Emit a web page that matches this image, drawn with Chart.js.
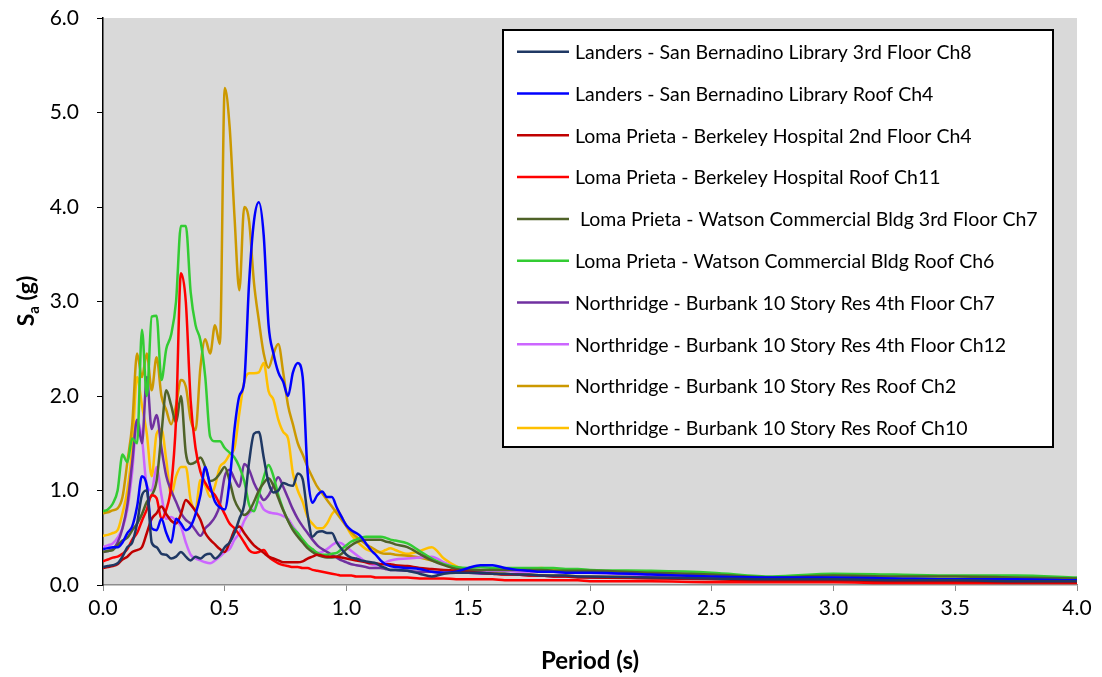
<!DOCTYPE html>
<html>
<head>
<meta charset="utf-8">
<script src="https://cdn.jsdelivr.net/npm/chart.js@4.4.1/dist/chart.umd.min.js"></script>
<style>
  html, body { margin: 0; padding: 0; background: #fff; }
  #wrap { width: 1102px; height: 677px; }
</style>
</head>
<body>
<div id="wrap"><canvas id="spectra"></canvas></div>
<script>
// Period grid (s): fine steps over the short-period range, coarser beyond
const PERIOD = [
  0.00,0.02,0.04,0.06,0.08,0.10,0.12,0.14,0.16,0.18,
  0.20,0.22,0.24,0.26,0.28,0.30,0.32,0.34,0.36,0.38,
  0.40,0.42,0.44,0.46,0.48,0.50,0.52,0.54,0.56,0.58,
  0.60,0.62,0.64,0.66,0.68,0.70,0.72,0.74,0.76,0.78,
  0.80,0.82,0.84,0.86,0.88,0.90,0.92,0.94,0.96,0.98,
  1.00,1.02,1.04,1.06,1.08,1.10,1.12,1.14,1.16,1.18,
  1.20,
  1.25,1.30,1.35,1.40,1.45,1.50,1.55,1.60,1.65,1.70,1.75,1.80,1.85,1.90,1.95,2.00,
  2.25,2.50,2.75,3.00,3.25,3.50,3.75,4.00
];

// Spectral acceleration Sa (g) per record
const LANDERS_LIB_3RD_CH8 = [
  0.19,0.20,0.21,0.23,0.30,0.40,0.45,0.65,0.95,1.00,
  0.45,0.40,0.33,0.32,0.28,0.30,0.35,0.30,0.26,0.30,
  0.28,0.32,0.33,0.28,0.32,0.40,0.45,0.55,0.70,0.85,
  1.30,1.60,1.62,1.35,1.08,0.98,1.00,1.08,1.06,1.05,
  1.18,1.12,0.75,0.51,0.56,0.57,0.55,0.55,0.45,0.38,
  0.32,0.29,0.28,0.26,0.25,0.24,0.23,0.20,0.18,0.16,
  0.16,
  0.15,0.12,0.09,0.12,0.13,0.13,0.13,0.12,0.12,0.11,0.11,0.10,0.10,0.10,0.09,0.09,
  0.08,0.07,0.06,0.06,0.05,0.05,0.04,0.04
];
const LANDERS_LIB_ROOF_CH4 = [
  0.38,0.39,0.40,0.40,0.45,0.55,0.62,0.83,1.15,1.05,
  0.60,0.58,0.70,0.55,0.45,0.70,0.65,0.58,0.62,0.75,
  0.95,1.25,1.05,0.88,0.82,0.80,1.10,1.65,2.00,2.15,
  3.20,3.85,4.05,3.70,2.75,2.45,2.25,2.15,2.00,2.25,
  2.35,2.20,1.20,0.87,0.95,0.99,0.93,0.93,0.82,0.72,
  0.63,0.58,0.55,0.51,0.44,0.37,0.32,0.26,0.22,0.20,
  0.19,
  0.18,0.17,0.14,0.13,0.14,0.18,0.21,0.21,0.18,0.16,0.15,0.14,0.14,0.13,0.13,0.13,
  0.11,0.09,0.08,0.08,0.07,0.06,0.06,0.05
];
const LOMA_BERKELEY_2ND_CH4 = [
  0.18,0.19,0.20,0.22,0.27,0.30,0.35,0.37,0.40,0.55,
  0.70,0.76,0.83,0.75,0.68,0.65,0.75,0.90,0.85,0.78,
  0.69,0.55,0.48,0.43,0.38,0.35,0.45,0.58,0.62,0.55,
  0.48,0.42,0.38,0.34,0.30,0.28,0.26,0.24,0.24,0.24,
  0.24,0.25,0.28,0.30,0.32,0.31,0.30,0.30,0.30,0.29,
  0.28,0.27,0.26,0.25,0.24,0.23,0.23,0.22,0.22,0.22,
  0.21,
  0.20,0.18,0.17,0.16,0.15,0.14,0.13,0.12,0.11,0.11,0.10,0.10,0.09,0.09,0.08,0.08,
  0.07,0.06,0.05,0.05,0.04,0.04,0.03,0.03
];
const LOMA_BERKELEY_ROOF_CH11 = [
  0.25,0.27,0.29,0.30,0.33,0.38,0.48,0.55,0.68,0.80,
  0.95,0.92,0.70,0.80,1.05,1.75,3.30,3.00,1.95,1.45,
  1.20,1.08,1.00,0.95,0.85,0.75,0.65,0.60,0.53,0.45,
  0.37,0.34,0.35,0.37,0.30,0.26,0.23,0.21,0.20,0.19,
  0.19,0.18,0.18,0.16,0.15,0.14,0.13,0.12,0.11,0.10,
  0.10,0.10,0.09,0.09,0.09,0.09,0.08,0.08,0.08,0.08,
  0.08,
  0.08,0.07,0.07,0.07,0.06,0.06,0.06,0.06,0.05,0.05,0.05,0.05,0.05,0.05,0.05,0.04,
  0.04,0.03,0.03,0.03,0.02,0.02,0.02,0.02
];
const LOMA_WATSON_3RD_CH7 = [
  0.35,0.36,0.37,0.42,0.47,0.50,0.58,0.65,0.75,0.88,
  0.95,1.10,1.60,2.06,1.90,1.72,2.00,1.40,1.28,1.30,
  1.35,1.25,1.10,1.12,1.18,1.25,1.10,0.90,0.80,0.74,
  0.78,0.88,1.00,1.08,1.13,1.05,0.92,0.79,0.68,0.58,
  0.51,0.45,0.39,0.35,0.32,0.30,0.29,0.29,0.30,0.33,
  0.38,0.42,0.45,0.47,0.48,0.48,0.48,0.48,0.46,0.45,
  0.43,
  0.40,0.33,0.26,0.21,0.17,0.16,0.16,0.16,0.16,0.16,0.16,0.16,0.15,0.15,0.15,0.15,
  0.13,0.11,0.08,0.10,0.09,0.09,0.08,0.07
];
const LOMA_WATSON_ROOF_CH6 = [
  0.78,0.80,0.86,1.00,1.38,1.30,1.55,1.50,2.70,2.00,
  2.84,2.85,2.17,2.50,2.65,3.00,3.80,3.80,3.10,2.75,
  2.59,2.20,1.57,1.52,1.52,1.45,1.40,1.35,1.25,1.10,
  0.85,0.78,0.95,1.14,1.27,1.15,0.95,0.80,0.68,0.60,
  0.55,0.48,0.42,0.38,0.34,0.32,0.32,0.33,0.34,0.38,
  0.42,0.46,0.48,0.50,0.51,0.51,0.51,0.51,0.50,0.48,
  0.47,
  0.44,0.36,0.28,0.22,0.19,0.18,0.19,0.18,0.18,0.18,0.18,0.18,0.18,0.17,0.17,0.16,
  0.15,0.13,0.09,0.12,0.11,0.10,0.10,0.08
];
const NORTHRIDGE_BURBANK_4TH_CH7 = [
  0.35,0.36,0.38,0.45,0.60,0.85,1.30,1.75,1.50,2.20,
  1.65,1.80,1.45,1.15,1.00,0.88,0.76,0.69,0.65,0.58,
  0.52,0.60,0.65,0.72,0.85,1.15,1.22,1.12,1.04,1.28,
  1.22,1.08,0.98,0.90,0.95,1.05,1.14,1.04,0.92,0.80,
  0.70,0.62,0.55,0.48,0.42,0.38,0.35,0.32,0.29,0.26,
  0.24,0.22,0.21,0.20,0.19,0.18,0.18,0.18,0.17,0.16,
  0.16,
  0.15,0.14,0.14,0.13,0.13,0.13,0.12,0.12,0.11,0.11,0.10,0.10,0.09,0.09,0.09,0.08,
  0.08,0.07,0.06,0.05,0.05,0.05,0.04,0.04
];
const NORTHRIDGE_BURBANK_4TH_CH12 = [
  0.40,0.42,0.44,0.50,0.60,0.80,1.20,1.75,1.55,1.05,
  1.00,1.25,0.95,0.70,0.72,0.68,0.62,0.45,0.32,0.28,
  0.26,0.24,0.23,0.26,0.30,0.35,0.38,0.48,0.55,0.68,
  0.76,0.80,0.88,0.80,0.77,0.76,0.75,0.73,0.70,0.62,
  0.55,0.47,0.41,0.37,0.34,0.35,0.38,0.42,0.45,0.44,
  0.40,0.36,0.32,0.28,0.24,0.22,0.21,0.22,0.24,0.26,
  0.27,
  0.28,0.29,0.30,0.24,0.18,0.16,0.15,0.15,0.15,0.14,0.14,0.14,0.14,0.13,0.13,0.13,
  0.10,0.08,0.07,0.06,0.06,0.05,0.05,0.05
];
const NORTHRIDGE_BURBANK_ROOF_CH2 = [
  0.76,0.77,0.79,0.81,0.93,1.30,1.70,2.45,2.20,2.45,
  2.06,2.41,2.00,1.85,1.70,1.90,2.17,2.10,1.75,1.64,
  2.30,2.60,2.45,2.75,2.55,5.26,4.85,3.90,3.12,4.00,
  3.85,3.20,2.80,2.45,2.30,2.45,2.55,2.25,1.90,1.70,
  1.50,1.38,1.25,1.14,1.04,0.97,0.90,0.83,0.76,0.69,
  0.62,0.56,0.51,0.47,0.43,0.40,0.37,0.34,0.33,0.33,
  0.32,
  0.31,0.29,0.26,0.23,0.18,0.15,0.13,0.12,0.12,0.11,0.11,0.10,0.10,0.10,0.09,0.09,
  0.08,0.07,0.06,0.06,0.05,0.05,0.05,0.04
];
const NORTHRIDGE_BURBANK_ROOF_CH10 = [
  0.52,0.53,0.55,0.58,0.76,1.00,1.45,2.20,1.90,1.60,
  1.15,1.60,1.65,1.32,0.95,1.15,1.25,1.25,0.90,0.80,
  1.11,1.05,0.93,1.05,1.25,1.30,1.38,1.45,1.82,2.15,
  2.24,2.24,2.25,2.35,2.05,1.96,1.75,1.62,1.55,1.18,
  1.00,0.88,0.72,0.65,0.60,0.60,0.65,0.75,0.79,0.72,
  0.62,0.53,0.47,0.42,0.38,0.36,0.35,0.35,0.37,0.39,
  0.37,
  0.33,0.36,0.40,0.28,0.20,0.16,0.14,0.14,0.15,0.16,0.17,0.18,0.17,0.16,0.15,0.15,
  0.12,0.10,0.08,0.07,0.06,0.06,0.05,0.05
];

const SERIES_LABELS = [
  'Landers - San Bernadino Library 3rd Floor Ch8',
  'Landers - San Bernadino Library Roof Ch4',
  'Loma Prieta - Berkeley Hospital 2nd Floor Ch4',
  'Loma Prieta - Berkeley Hospital Roof Ch11',
  ' Loma Prieta - Watson Commercial Bldg 3rd Floor Ch7',
  'Loma Prieta - Watson Commercial Bldg Roof Ch6',
  'Northridge - Burbank 10 Story Res 4th Floor Ch7',
  'Northridge - Burbank 10 Story Res 4th Floor Ch12',
  'Northridge - Burbank 10 Story Res Roof Ch2',
  'Northridge - Burbank 10 Story Res Roof Ch10',
];
const SERIES_VALUES = [
  LANDERS_LIB_3RD_CH8, LANDERS_LIB_ROOF_CH4,
  LOMA_BERKELEY_2ND_CH4, LOMA_BERKELEY_ROOF_CH11,
  LOMA_WATSON_3RD_CH7, LOMA_WATSON_ROOF_CH6,
  NORTHRIDGE_BURBANK_4TH_CH7, NORTHRIDGE_BURBANK_4TH_CH12,
  NORTHRIDGE_BURBANK_ROOF_CH2, NORTHRIDGE_BURBANK_ROOF_CH10,
];
const SERIES_COLORS = [
  '#1f3864', '#0000ff', '#c00000', '#ff0000', '#4f6228',
  '#33cc33', '#7030a0', '#cc66ff', '#cc9900', '#ffc000',
];

const FONT = 'Lato, "Noto Sans", sans-serif';
Chart.defaults.font.family = FONT;
Chart.defaults.color = '#000';

// grey plot background
const plotBackground = {
  id: 'plotBackground',
  beforeDraw(chart) {
    const { ctx, chartArea: a } = chart;
    ctx.save();
    ctx.fillStyle = '#d9d9d9';
    ctx.fillRect(a.left, a.top, a.right - a.left, a.bottom - a.top);
    ctx.restore();
  },
};

// boxed legend inside the plot, axis titles (Sa with subscript)
const annotations = {
  id: 'annotations',
  afterDraw(chart) {
    const { ctx, chartArea: a } = chart;
    ctx.save();

    // legend box
    const box = { x: 503, y: 30, w: 550, h: 417 };
    ctx.fillStyle = '#fff';
    ctx.fillRect(box.x, box.y, box.w, box.h);
    ctx.strokeStyle = '#000';
    ctx.lineWidth = 2;
    ctx.strokeRect(box.x, box.y, box.w, box.h);
    ctx.font = '19.5px ' + FONT;
    ctx.textBaseline = 'middle';
    ctx.textAlign = 'left';
    chart.data.datasets.forEach((ds, i) => {
      const y = 51.7 + i * 41.8;
      ctx.strokeStyle = ds.borderColor;
      ctx.lineWidth = 2.5;
      ctx.beginPath();
      ctx.moveTo(517, y);
      ctx.lineTo(569, y);
      ctx.stroke();
      ctx.fillStyle = '#000';
      ctx.fillText(ds.label, 575, y + 1);
    });

    // x title
    ctx.font = 'bold 24px ' + FONT;
    ctx.textAlign = 'center';
    ctx.fillText('Period (s)', (a.left + a.right) / 2, 661);

    // y title: S_a (g)
    ctx.translate(27, 301);
    ctx.rotate(-Math.PI / 2);
    const big = 'bold 23px ' + FONT, small = 'bold 15px ' + FONT;
    ctx.font = big;  const wS = ctx.measureText('S').width;
    ctx.font = small; const wA = ctx.measureText('a').width;
    ctx.font = big;  const wG = ctx.measureText(' (g)').width;
    let x = -(wS + wA + wG) / 2;
    ctx.textAlign = 'left';
    ctx.font = big;  ctx.fillText('S', x, 0); x += wS;
    ctx.font = small; ctx.fillText('a', x, 7); x += wA;
    ctx.font = big;  ctx.fillText(' (g)', x, 0);

    ctx.restore();
  },
};

new Chart(document.getElementById('spectra'), {
  type: 'line',
  data: {
    datasets: SERIES_VALUES.map((vals, i) => ({
      label: SERIES_LABELS[i],
      data: PERIOD.map((t, k) => ({ x: t, y: vals[k] })),
      borderColor: SERIES_COLORS[i],
      backgroundColor: SERIES_COLORS[i],
      borderWidth: 2.5,
      pointRadius: 0,
      cubicInterpolationMode: 'monotone',
      fill: false,
    })),
  },
  options: {
    responsive: true,
    maintainAspectRatio: false,
    animation: false,
    layout: { padding: { left: 0, top: 18, right: 25, bottom: 0 } },
    plugins: {
      legend: { display: false },
      tooltip: { enabled: false },
    },
    scales: {
      x: {
        type: 'linear',
        min: 0,
        max: 4,
        afterFit: (s) => { s.height = 92; s.paddingLeft = 0; s.paddingRight = 0; },
        ticks: {
          stepSize: 0.5,
          padding: 5,
          font: { size: 21 },
          color: '#000',
          maxRotation: 0,
          callback: (v) => v.toFixed(1),
        },
        grid: { drawOnChartArea: false, drawTicks: true, tickLength: 6, color: '#8c8c8c' },
        border: { color: '#8c8c8c', width: 1.5 },
      },
      y: {
        min: 0,
        max: 6,
        // label overflow is already covered by the layout padding
        afterFit: (s) => { s.width = 103; s.paddingTop = 0; s.paddingBottom = 0; },
        ticks: {
          stepSize: 1,
          padding: 18,
          font: { size: 21 },
          color: '#000',
          callback: (v) => v.toFixed(1),
        },
        grid: { drawOnChartArea: false, drawTicks: true, tickLength: 6, color: '#000' },
        border: { color: '#000', width: 1.5 },
      },
    },
  },
  plugins: [plotBackground, annotations],
});
</script>
</body>
</html>
